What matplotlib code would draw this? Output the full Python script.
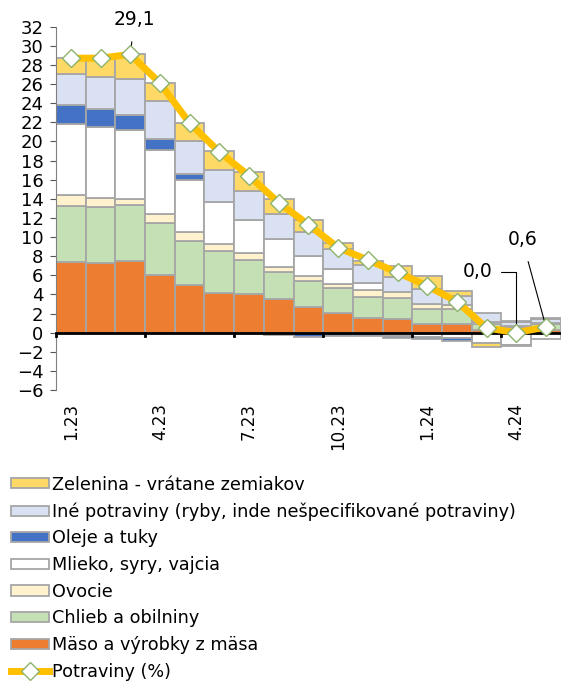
import matplotlib.pyplot as plt
import numpy as np

plt.rcParams['font.family'] = 'DejaVu Sans'

# months 1.23 .. 5.24
months = ['1.23', '2.23', '3.23', '4.23', '5.23', '6.23', '7.23', '8.23', '9.23',
          '10.23', '11.23', '12.23', '1.24', '2.24', '3.24', '4.24', '5.24']
label_every = 3

# contributions (p.b.), bottom to top
maso = [7.4, 7.25, 7.5, 6.0, 5.0, 4.2, 4.0, 3.5, 2.72, 2.1, 1.5, 1.43, 0.91, 0.95, 0.3, 0.25, 0.3]
chlieb = [5.8, 5.9, 5.8, 5.5, 4.6, 4.35, 3.55, 2.8, 2.7, 2.55, 2.27, 2.15, 1.53, 1.5, 0.6, 0.35, 0.6]
ovocie = [1.2, 0.9, 0.7, 0.9, 0.9, 0.7, 0.75, 0.6, 0.5, 0.45, 0.7, 0.7, 0.55, 0.4, 0.25, 0.1, 0.1]
mlieko = [7.4, 7.5, 7.2, 6.65, 5.45, 4.4, 3.5, 2.9, 2.1, 1.57, 0.7, -0.3, -0.45, -0.6, -1.05, -1.3, -0.7]
oleje = [2.0, 1.8, 1.55, 1.2, 0.6, 0.05, -0.05, -0.2, -0.5, -0.35, -0.35, -0.3, -0.25, -0.25, -0.05, -0.05, 0.05]
ine = [3.2, 3.4, 3.8, 3.95, 3.45, 3.35, 3.0, 2.6, 2.5, 2.06, 1.9, 1.57, 1.6, 1.0, 0.95, 0.45, 0.35]
zelenina = [1.7, 1.95, 2.55, 1.9, 1.9, 1.9, 1.95, 1.6, 1.3, 0.63, 0.42, 1.1, 1.3, 0.5, -0.35, 0.1, 0.1]

# total food inflation (%)
potraviny = [28.7, 28.7, 29.1, 26.1, 21.9, 18.9, 16.4, 13.6, 11.3, 8.9, 7.6, 6.3, 4.9, 3.25, 0.5, 0.0, 0.6]

series = [
    ('Mäso a výrobky z mäsa', maso, '#ED7D31'),
    ('Chlieb a obilniny', chlieb, '#C5E0B4'),
    ('Ovocie', ovocie, '#FFF2CC'),
    ('Mlieko, syry, vajcia', mlieko, '#FFFFFF'),
    ('Oleje a tuky', oleje, '#4472C4'),
    ('Iné potraviny (ryby, inde nešpecifikované potraviny)', ine, '#D9E1F2'),
    ('Zelenina - vrátane zemiakov', zelenina, '#FFD966'),
]

fig = plt.figure(figsize=(5.85, 6.82), dpi=100)
ax = fig.add_axes([0.0957, 0.428, 0.863, 0.533])

x = np.arange(len(months))
pos_base = np.zeros(len(months))
neg_base = np.zeros(len(months))
handles = []
for name, vals, col in series:
    v = np.array(vals)
    bottom = np.where(v >= 0, pos_base, neg_base)
    b = ax.bar(x, v, width=1.0, bottom=bottom, color=col, edgecolor='#A6A6A6',
               linewidth=1.3, label=name, zorder=2)
    handles.append(b)
    pos_base += np.where(v >= 0, v, 0)
    neg_base += np.where(v < 0, v, 0)

ln, = ax.plot(x, potraviny, color='#FFC000', lw=5, marker='D', markersize=9,
              markerfacecolor='white', markeredgecolor='#8DB36B', markeredgewidth=1,
              label='Potraviny (%)', zorder=4)

ax.axhline(0, color='black', lw=2, zorder=3)

ax.set_ylim(-6, 32)
ax.set_yticks(np.arange(-6, 33, 2))
ax.set_xlim(-0.5, len(months) - 0.5)
ax.tick_params(axis='y', labelsize=13, length=4, color='#595959', pad=5)
for s in ['top', 'right', 'bottom']:
    ax.spines[s].set_visible(False)
ax.spines['left'].set_color('#808080')

# tick marks on zero line between quarters, labels at the bottom
ax.set_xticks(np.arange(-0.5, len(months), label_every))
ax.set_xticklabels([])
ax.tick_params(axis='x', length=0)
for t in np.arange(-0.5, len(months), label_every):
    ax.plot([t, t], [0, -0.35], color='black', lw=2, zorder=3, clip_on=False)
for i in range(0, len(months), label_every):
    ax.text(i, -0.035, months[i], transform=ax.get_xaxis_transform(), rotation=90,
            ha='center', va='top', fontsize=12)

# data labels
ax.annotate('29,1', xy=(2, potraviny[2]), xytext=(2.15, 32.7), ha='center', va='center',
            fontsize=13.5, annotation_clip=False,
            arrowprops=dict(arrowstyle='-', color='black', lw=0.8, shrinkA=7, shrinkB=5))
ax.annotate('0,0', xy=(15, potraviny[15]), xytext=(13.7, 6.35), ha='center', va='center',
            fontsize=13.5,
            arrowprops=dict(arrowstyle='-', color='black', lw=0.8, shrinkA=4, shrinkB=3,
                            relpos=(1, 0.5), connectionstyle='angle,angleA=0,angleB=90,rad=0'))
ax.annotate('0,6', xy=(16, potraviny[16]), xytext=(15.2, 9.7), ha='center', va='center',
            fontsize=13.5,
            arrowprops=dict(arrowstyle='-', color='black', lw=0.8, shrinkA=7, shrinkB=3))

leg_handles = handles[::-1] + [ln]
leg_labels = [h.get_label() for h in leg_handles]
fig.legend(leg_handles, leg_labels, loc='upper left', bbox_to_anchor=(0.0, 0.318),
           frameon=False, fontsize=12.7, handlelength=2.15, handleheight=0.5,
           handletextpad=0.2, labelspacing=0.49, borderaxespad=0.2)

fig.savefig('out.png', dpi=100)
